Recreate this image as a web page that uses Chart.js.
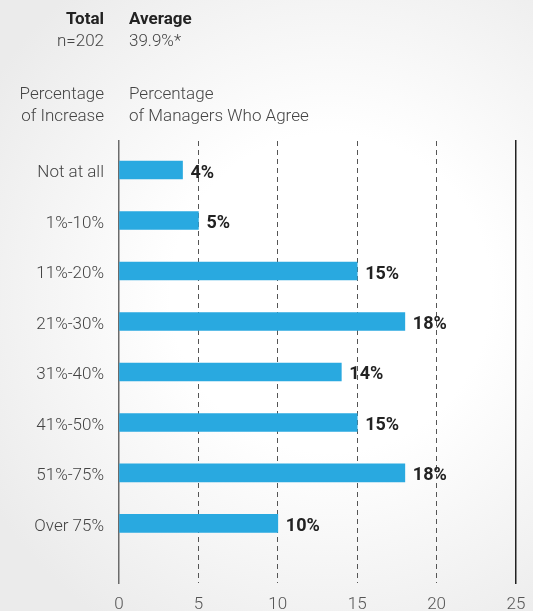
<!DOCTYPE html>
<html><head><meta charset="utf-8">
<script src="https://cdn.jsdelivr.net/npm/chart.js@4"></script>
<style>
html,body{margin:0;padding:0;}
body{width:533px;height:611px;overflow:hidden;position:relative;
 background:radial-gradient(ellipse 75% 65% at 62% 48%, #ffffff 40%, #ebebeb 100%);
 font-family:Roboto,'Liberation Sans',sans-serif;color:#444;}
canvas{position:absolute;left:0;top:0;}
.t{position:absolute;font-size:17px;line-height:22px;white-space:nowrap;font-weight:300;color:#444;z-index:2;}
.r{text-align:right;}
.b{font-weight:700;color:#222;}
</style></head>
<body>
<div class="t r" style="right:429px;top:7px;"><span class="b">Total</span><br>n=202</div>
<div class="t" style="left:129px;top:7px;"><span class="b">Average</span><br>39.9%*</div>
<div class="t r" style="right:429px;top:82px;">Percentage<br>of Increase</div>
<div class="t" style="left:129px;top:82px;">Percentage<br>of Managers Who Agree</div>
<canvas id="c" width="533" height="611"></canvas>
<script>
const categories = ['Not at all','1%-10%','11%-20%','21%-30%','31%-40%','41%-50%','51%-75%','Over 75%'];
const percentAgree = [4,5,15,18,14,15,18,10];
const xTicks = [0,5,10,15,20,25];

Chart.defaults.font.family = "Roboto, 'Liberation Sans', sans-serif";

const barLabels = {
  id:'barLabels',
  afterDatasetsDraw(chart){
    const ctx = chart.ctx;
    const meta = chart.getDatasetMeta(0);
    ctx.save();
    ctx.font = "700 18px Roboto, 'Liberation Sans', sans-serif";
    ctx.fillStyle = '#222';
    ctx.textAlign = 'left';
    ctx.textBaseline = 'middle';
    meta.data.forEach((bar,i)=>{
      ctx.fillText(percentAgree[i] + '%', bar.x + 8, bar.y + 3);
    });
    ctx.restore();
  }
};

new Chart(document.getElementById('c'), {
  type:'bar',
  data:{
    datasets:[{
      data: percentAgree.map((v,i)=>({x:v, y:i})),
      backgroundColor:'#29a9e0',
      barThickness:18
    }]
  },
  options:{
    indexAxis:'y',
    responsive:false,
    animation:false,
    layout:{padding:{top:141, right:17, bottom:0, left:0}},
    plugins:{legend:{display:false}, tooltip:{enabled:false}},
    scales:{
      x:{
        type:'linear', min:0, max:25,
        afterBuildTicks:s=>{ s.ticks = xTicks.map(v=>({value:v})); },
        grid:{
          color:ctx=> (ctx.tick && ctx.tick.value>0 && ctx.tick.value<25) ? '#555' : 'rgba(0,0,0,0)',
          lineWidth:1, drawTicks:false
        },
        border:{display:false, dash:[5,4]},
        ticks:{padding:12, color:'#555', font:{size:17, weight:300}},
        afterFit:s=>{ s.height = 28; s.paddingRight = 0; s.paddingLeft = 0; }
      },
      y:{
        type:'linear', reverse:true, offset:false, min:-0.575, max:8.18,
        afterBuildTicks:s=>{ s.ticks = categories.map((_,i)=>({value:i})); },
        ticks:{callback:v=>categories[v], padding:15, labelOffset:3, color:'#444', font:{size:17, weight:300}},
        grid:{display:false, drawTicks:false, offset:false},
        border:{display:true, color:'#6b6b6b', width:1.5},
        afterFit:s=>{ s.width = 119; }
      },
      y2:{
        type:'linear', position:'right', display:true, offset:false,
        grid:{display:false, drawTicks:false},
        ticks:{display:false},
        border:{display:true, color:'#222', width:1.5},
        afterFit:s=>{ s.width = 0; }
      }
    }
  },
  plugins:[barLabels]
});
</script>
</body></html>
